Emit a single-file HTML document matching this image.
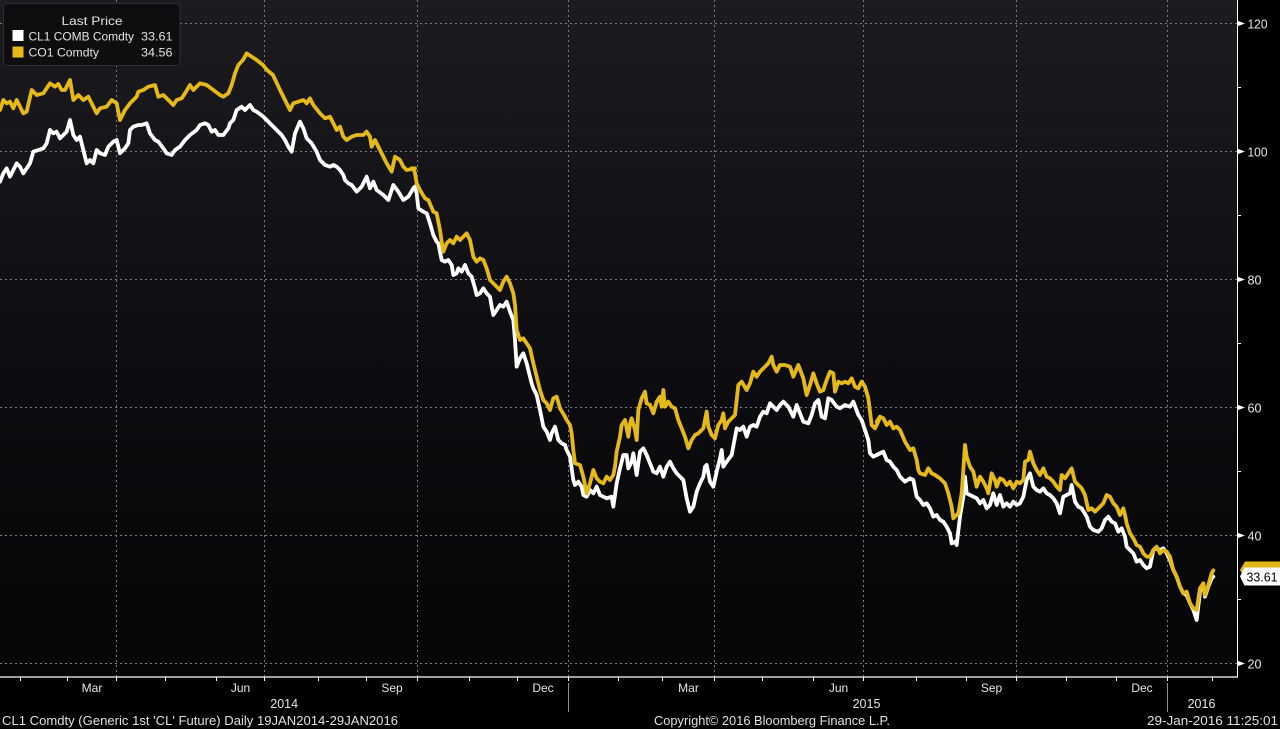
<!DOCTYPE html>
<html><head><meta charset="utf-8"><style>
html,body{margin:0;padding:0;background:#000;}
svg{display:block;}
text{font-family:"Liberation Sans",Arial,sans-serif;}
</style></head><body>
<svg width="1280" height="729" viewBox="0 0 1280 729" xmlns="http://www.w3.org/2000/svg">
<defs>
<linearGradient id="bg" x1="0" y1="0" x2="0" y2="1">
<stop offset="0" stop-color="#1c1b20"/>
<stop offset="0.55" stop-color="#0d0d11"/>
<stop offset="1" stop-color="#050507"/>
</linearGradient>
</defs>
<rect x="0" y="0" width="1280" height="729" fill="#000"/>
<rect x="0" y="0" width="1237" height="677" fill="url(#bg)"/>

<!-- grid -->
<g stroke="#7c7c80" stroke-width="1" stroke-dasharray="2 3" fill="none">
<line x1="0" y1="23.5" x2="1237" y2="23.5"/>
<line x1="0" y1="151.5" x2="1237" y2="151.5"/>
<line x1="0" y1="279.5" x2="1237" y2="279.5"/>
<line x1="0" y1="407.5" x2="1237" y2="407.5"/>
<line x1="0" y1="535.5" x2="1237" y2="535.5"/>
<line x1="0" y1="663.5" x2="1237" y2="663.5"/>
<line x1="116.5" y1="0" x2="116.5" y2="677"/>
<line x1="264.5" y1="0" x2="264.5" y2="677"/>
<line x1="417.5" y1="0" x2="417.5" y2="677"/>
<line x1="568.5" y1="0" x2="568.5" y2="677"/>
<line x1="714.5" y1="0" x2="714.5" y2="677"/>
<line x1="863.5" y1="0" x2="863.5" y2="677"/>
<line x1="1016.5" y1="0" x2="1016.5" y2="677"/>
<line x1="1167.5" y1="0" x2="1167.5" y2="677"/>
</g>

<!-- WHITE series (CL1) -->
<g fill="none" stroke="#ffffff" stroke-width="11.4" stroke-linejoin="round" stroke-linecap="round">
<polyline transform="translate(0,60) scale(0.33333)" points="0,365 10,340 20,325 30,350 40,330 50,310 60,320 70,340 80,325 90,310 100,275 115,270 130,265 140,250 150,210 160,220 170,215 180,235 190,225 200,215 210,180 220,225 230,240 240,230 250,270 260,310 270,300 280,310 290,270 300,280 315,285 325,260 340,245 350,240 360,280 375,265 385,250 390,210 400,200 415,195 425,195 440,190 450,220 465,240 475,245 490,265 500,280 515,285 525,270 540,260 555,240 570,225 590,210 600,195 615,190 625,195 635,215 645,210 655,225 670,225 685,205 690,190 700,180 710,150 725,140 735,150 750,135 760,150 770,155 790,170 800,180 815,195 830,210 845,225 855,240 865,260 875,275 885,220 900,185 910,205 920,235 935,250 950,275 960,300 975,315 990,320 1000,315 1010,320 1020,330 1030,345 1035,360 1045,370 1055,375 1070,395 1085,380 1100,350 1110,385 1120,365 1130,390 1150,405 1165,420 1180,375 1195,395 1210,420 1225,410 1240,385 1245,380"/>
<polyline transform="translate(380,150) scale(0.33333)" points="100,115 105,110 110,130 115,175 130,185 140,190 145,205 150,220 160,255 170,275 175,280 185,330 195,335 205,330 215,345 220,375 230,370 235,355 245,365 255,345 265,370 275,380 285,415 290,435 300,430 310,415 320,430 330,440 335,470 340,495 350,480 360,465 370,470 380,455 390,485 400,510 405,570 410,650 420,625 430,610 440,640 450,680 455,700 460,715 470,735 480,780 490,830 500,845 510,870 515,850 525,830 535,870 545,880 555,885"/>
<polyline transform="translate(540,340) scale(0.33333)" points="75,315 80,330 90,350 100,420 105,435 115,425 125,440 130,465 140,470 150,450 160,460 170,440 180,465 190,470 200,475 215,470 220,500 230,430 240,385 250,345 260,345 265,385 275,365 280,340 290,405 300,335 310,325 320,345 330,370 340,395 350,400 360,380 370,410 380,380 390,365 400,385 410,400 420,410 430,420 440,475 450,515 460,500 470,455 480,430 490,410 495,380 500,375 510,425 520,440 530,395 540,355 545,330 550,380 560,365 575,345 590,265 600,270 610,260 620,290 630,260 640,255 650,260 660,230 670,215 680,220 690,190 700,200 710,210 720,195 730,185 745,200 760,230 770,195 780,220 790,245 805,250 815,225 825,190 835,180 845,230 855,235 865,175 875,180 890,200 900,205 915,195 930,200 940,185 955,225 965,240 975,270 985,300 990,340 1000,350 1010,345 1020,340"/>
<polyline transform="translate(860,380) scale(0.33333)" points="50,225 60,220 70,215 80,240 90,245 100,260 110,270 120,290 135,305 150,295 160,300 170,350 180,360 190,375 200,370 210,385 220,410 230,405 240,420 250,425 260,440 270,460 275,490 285,485 290,495 300,410 310,350 315,290 320,340 330,345 340,350 350,355 360,370 370,360 380,385 390,375 400,340 410,375 420,345 430,380 440,370 450,380 460,365 470,375 480,370 490,350 500,300 510,280 520,320 530,330 540,335 550,325 560,340 570,345 580,355 590,370 600,400 610,350 620,345 630,340 635,315 645,365 655,380 665,385 680,410 690,440 700,450 715,455 725,445 735,420 745,410 755,425 765,430 775,455 785,445 795,470 800,500 810,510 820,520 830,545 840,540 850,555 860,565 870,560 880,510 890,505 900,510 910,505 920,520 930,540 940,570 950,590 960,620 970,640 980,645 990,670 1000,690 1010,720 1020,635 1030,610 1035,650 1045,620 1055,595 1060,590"/>
</g>

<!-- YELLOW series (CO1) -->
<g fill="none" stroke="#e5b91a" stroke-width="11.4" stroke-linejoin="round" stroke-linecap="round">
<polyline transform="translate(0,60) scale(0.33333)" points="0,150 10,120 20,130 30,125 40,145 50,120 60,140 70,160 80,155 95,90 110,105 130,100 150,70 165,80 175,72 185,90 195,90 210,60 220,120 235,105 250,120 265,110 280,140 290,160 300,145 320,140 335,120 350,130 360,180 375,150 390,130 400,120 410,110 415,95 430,90 445,80 465,75 475,110 490,105 505,120 520,135 530,120 545,115 555,100 570,75 580,90 600,70 620,75 640,90 660,105 670,110 685,100 695,75 705,40 715,15 729,0 740,-20 755,-10 770,0 789,15 801,30 819,45 840,90 855,120 870,150 880,130 895,125 910,120 920,130 930,115 940,135 960,160 975,175 990,170 1000,190 1010,210 1020,200 1030,230 1040,240 1055,230 1070,225 1090,225 1100,215 1110,230 1115,260 1125,240 1140,270 1160,310 1175,335 1185,290 1200,300 1210,320 1220,330 1245,325"/>
<polyline transform="translate(380,150) scale(0.33333)" points="95,55 100,55 105,70 110,100 120,120 135,145 145,150 160,185 170,190 180,240 185,275 190,305 200,280 210,270 220,280 230,260 240,270 250,260 260,250 270,270 280,320 290,335 300,325 310,330 320,355 330,390 340,400 350,410 360,420 370,395 380,380 390,400 400,430 405,465 410,540 420,570 430,565 440,580 450,595 460,640 470,680 480,720 490,750 500,760 510,780 520,745 530,740 540,775 555,800"/>
<polyline transform="translate(540,340) scale(0.33333)" points="75,230 80,240 90,255 95,280 100,330 105,370 120,375 130,410 140,460 150,430 160,390 170,415 180,425 190,430 200,410 210,420 220,405 225,380 230,335 240,290 245,255 255,240 265,290 270,250 275,235 285,270 290,300 295,210 305,175 315,155 320,190 330,195 340,220 350,185 360,170 365,200 370,150 375,200 385,185 395,200 405,205 415,240 425,265 435,290 445,325 455,300 465,285 475,280 490,265 500,215 505,260 515,285 525,295 535,255 545,240 550,220 555,265 565,245 575,235 585,225 595,135 605,125 620,150 630,130 640,95 650,110 660,95 675,80 685,70 695,50 700,75 710,95 720,75 735,75 750,80 760,110 775,75 790,115 800,165 810,135 820,100 830,130 840,155 850,150 860,120 870,95 880,100 885,155 895,125 905,130 915,125 925,130 935,115 945,140 955,145 965,125 975,140 985,175 995,255 1005,265 1015,245 1020,230"/>
<polyline transform="translate(860,380) scale(0.33333)" points="50,125 60,110 70,115 80,135 90,125 100,145 110,140 120,150 135,185 150,210 160,205 170,240 175,270 180,280 195,285 205,265 215,280 225,285 240,295 255,310 265,340 275,380 280,415 295,400 305,340 310,270 315,195 320,230 330,260 340,275 350,320 360,290 370,305 380,325 385,340 395,280 405,300 410,320 420,295 430,300 440,315 450,305 460,325 470,305 480,310 490,300 495,245 505,240 510,215 520,250 530,270 540,285 550,265 560,290 570,295 580,305 590,320 600,330 605,285 615,295 625,280 635,265 645,305 655,315 665,325 675,345 685,390 695,385 705,395 720,380 730,370 740,345 750,350 760,370 770,380 780,405 790,385 795,405 800,430 810,460 820,475 830,495 840,500 850,520 860,530 870,530 880,510 890,500 900,520 910,510 920,515 930,530 940,570 950,590 960,620 970,640 980,635 990,670 1000,685 1010,690 1020,625 1030,610 1035,645 1045,615 1055,580 1060,571"/>
</g>

<!-- axes -->
<rect x="1237" y="0" width="43" height="729" fill="#000"/>
<rect x="0" y="677" width="1280" height="52" fill="#000"/>
<line x1="1237.5" y1="0" x2="1237.5" y2="677.5" stroke="#fff" stroke-width="1"/>
<line x1="0" y1="677" x2="1238" y2="677" stroke="#fff" stroke-width="1.2"/>

<!-- y minor ticks -->
<g stroke="#fff" stroke-width="1">
<line x1="1237" y1="87.5" x2="1241" y2="87.5"/>
<line x1="1237" y1="215.5" x2="1241" y2="215.5"/>
<line x1="1237" y1="343.5" x2="1241" y2="343.5"/>
<line x1="1237" y1="471.5" x2="1241" y2="471.5"/>
<line x1="1237" y1="599.5" x2="1241" y2="599.5"/>
</g>
<!-- y major markers -->
<g fill="#fff">
<polygon points="1237.5,20.8 1245,23.5 1237.5,26.2"/>
<polygon points="1237.5,148.8 1245,151.5 1237.5,154.2"/>
<polygon points="1237.5,276.8 1245,279.5 1237.5,282.2"/>
<polygon points="1237.5,404.8 1245,407.5 1237.5,410.2"/>
<polygon points="1237.5,532.8 1245,535.5 1237.5,538.2"/>
<polygon points="1237.5,660.8 1245,663.5 1237.5,666.2"/>
</g>
<g fill="#e6e6e6" font-size="13">
<text x="1247.5" y="28.5" textLength="20" lengthAdjust="spacingAndGlyphs">120</text>
<text x="1247.5" y="156.5" textLength="20" lengthAdjust="spacingAndGlyphs">100</text>
<text x="1247.5" y="284.5" textLength="14" lengthAdjust="spacingAndGlyphs">80</text>
<text x="1247.5" y="412.5" textLength="14" lengthAdjust="spacingAndGlyphs">60</text>
<text x="1247.5" y="540.5" textLength="14" lengthAdjust="spacingAndGlyphs">40</text>
<text x="1247.5" y="668.5" textLength="14" lengthAdjust="spacingAndGlyphs">20</text>
</g>

<!-- last value tags -->
<polygon points="1240,570 1245,561.5 1280,561.5 1280,578.5 1245,578.5" fill="#e5b91a"/>
<polygon points="1240,576.5 1244.5,567.5 1280,567.5 1280,585.5 1244.5,585.5" fill="#ffffff"/>
<text x="1246.5" y="581.5" font-size="13" fill="#000" textLength="31" lengthAdjust="spacingAndGlyphs">33.61</text>

<!-- x ticks -->
<g stroke="#fff" stroke-width="1">
<line x1="20.5" y1="677" x2="20.5" y2="681"/>
<line x1="67.5" y1="677" x2="67.5" y2="681"/>
<line x1="116.5" y1="677" x2="116.5" y2="681"/>
<line x1="165.5" y1="677" x2="165.5" y2="681"/>
<line x1="216.5" y1="677" x2="216.5" y2="681"/>
<line x1="264.5" y1="677" x2="264.5" y2="681"/>
<line x1="318.5" y1="677" x2="318.5" y2="681"/>
<line x1="366.5" y1="677" x2="366.5" y2="681"/>
<line x1="417.5" y1="677" x2="417.5" y2="681"/>
<line x1="469.5" y1="677" x2="469.5" y2="681"/>
<line x1="517.5" y1="677" x2="517.5" y2="681"/>
<line x1="568.5" y1="677" x2="568.5" y2="681"/>
<line x1="618.5" y1="677" x2="618.5" y2="681"/>
<line x1="662.5" y1="677" x2="662.5" y2="681"/>
<line x1="714.5" y1="677" x2="714.5" y2="681"/>
<line x1="762.5" y1="677" x2="762.5" y2="681"/>
<line x1="813.5" y1="677" x2="813.5" y2="681"/>
<line x1="863.5" y1="677" x2="863.5" y2="681"/>
<line x1="916.5" y1="677" x2="916.5" y2="681"/>
<line x1="966.5" y1="677" x2="966.5" y2="681"/>
<line x1="1016.5" y1="677" x2="1016.5" y2="681"/>
<line x1="1066.5" y1="677" x2="1066.5" y2="681"/>
<line x1="1116.5" y1="677" x2="1116.5" y2="681"/>
<line x1="1167.5" y1="677" x2="1167.5" y2="681"/>
<line x1="1212.5" y1="677" x2="1212.5" y2="681"/>
</g>
<g stroke="#8a8a8a" stroke-width="1">
<line x1="568.5" y1="683" x2="568.5" y2="712"/>
<line x1="1167.5" y1="683" x2="1167.5" y2="712"/>
</g>

<!-- x labels -->
<g fill="#e6e6e6" font-size="12" text-anchor="middle">
<text x="92" y="692">Mar</text>
<text x="240.5" y="692">Jun</text>
<text x="392" y="692">Sep</text>
<text x="543" y="692">Dec</text>
<text x="688.5" y="692">Mar</text>
<text x="838.5" y="692">Jun</text>
<text x="991.5" y="692">Sep</text>
<text x="1142" y="692">Dec</text>
<text x="284.2" y="708" font-size="12.5">2014</text>
<text x="866.5" y="708" font-size="12.5">2015</text>
<text x="1201.5" y="708" font-size="12.5">2016</text>
</g>

<!-- footer -->
<g fill="#e0e0e0" font-size="12.5">
<text x="2" y="725" textLength="396" lengthAdjust="spacingAndGlyphs">CL1 Comdty (Generic 1st 'CL' Future)  Daily 19JAN2014-29JAN2016</text>
<text x="654" y="725" textLength="236" lengthAdjust="spacingAndGlyphs">Copyright© 2016 Bloomberg Finance L.P.</text>
<text x="1147" y="725" textLength="131" lengthAdjust="spacingAndGlyphs">29-Jan-2016 11:25:01</text>
</g>

<!-- legend -->
<rect x="3.5" y="3.5" width="176.5" height="62" rx="3" ry="3" fill="#0e0e11" stroke="#2e2e33" stroke-width="1"/>
<g fill="#e2e2e2" font-size="12">
<text x="61.5" y="25" textLength="61" lengthAdjust="spacingAndGlyphs">Last Price</text>
<text x="28.5" y="40.5" textLength="105.5" lengthAdjust="spacingAndGlyphs">CL1 COMB Comdty</text>
<text x="141" y="40.5" textLength="31.5" lengthAdjust="spacingAndGlyphs">33.61</text>
<text x="28.5" y="56.5" textLength="70.5" lengthAdjust="spacingAndGlyphs">CO1 Comdty</text>
<text x="141" y="56.5" textLength="31.5" lengthAdjust="spacingAndGlyphs">34.56</text>
</g>
<rect x="12.5" y="30" width="11" height="11" fill="#ffffff"/>
<rect x="12.5" y="46.5" width="11" height="11" fill="#e5b91a"/>
</svg>
</body></html>
